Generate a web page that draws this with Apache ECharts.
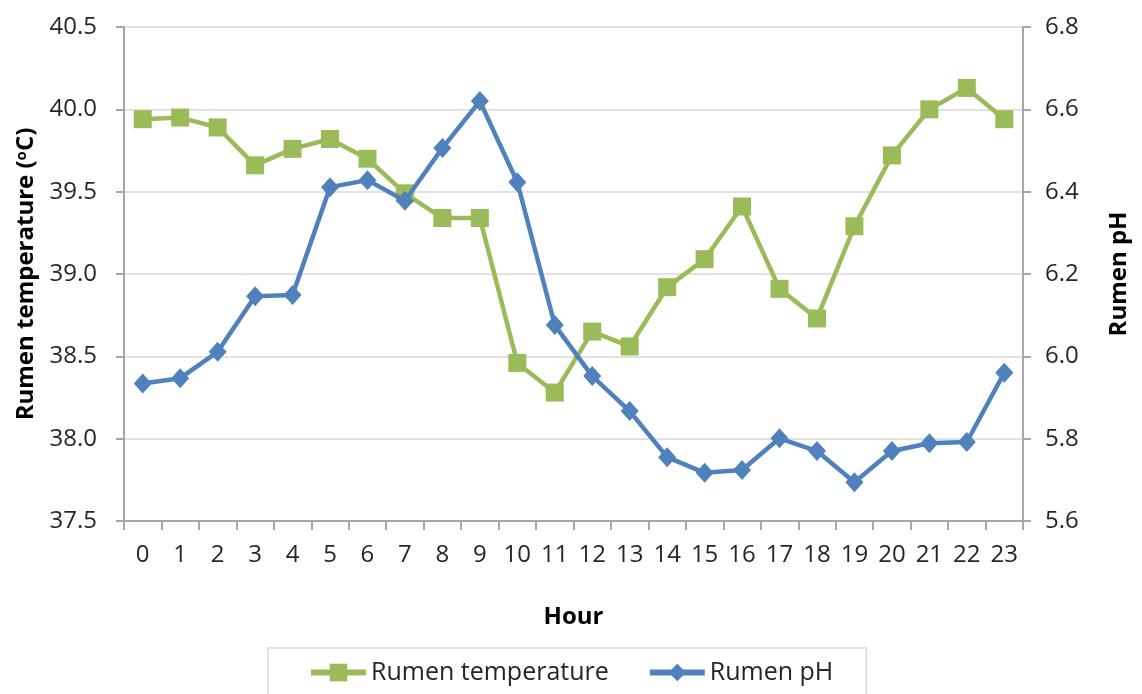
<!DOCTYPE html>
<html><head><meta charset="utf-8">
<script src="https://cdn.jsdelivr.net/npm/echarts@6/dist/echarts.min.js"></script>
<style>html,body{margin:0;padding:0;background:#fff}#c{width:1142px;height:694px}</style>
</head><body><div id="c"></div>
<script>
const hours = ['0','1','2','3','4','5','6','7','8','9','10','11','12','13','14','15','16','17','18','19','20','21','22','23'];
const rumenTemperature = [39.94,39.95,39.89,39.66,39.76,39.82,39.70,39.49,39.34,39.34,38.46,38.28,38.65,38.56,38.92,39.09,39.41,38.91,38.73,39.29,39.72,40.00,40.13,39.94];
const rumenPH = [5.934,5.947,6.011,6.146,6.149,6.411,6.428,6.378,6.506,6.620,6.423,6.076,5.952,5.867,5.755,5.717,5.724,5.801,5.770,5.694,5.770,5.789,5.792,5.960];
const leftTicks = {min:37.5, max:40.5, interval:0.5};
const rightTicks = {min:5.6, max:6.8, interval:0.2};

const font = '"Open Sans", "DejaVu Sans", sans-serif';
const axisGrey = '#A6A6A6';
const chart = echarts.init(document.getElementById('c'), null, {renderer:'canvas'});
chart.setOption({
  animation:false,
  textStyle:{fontFamily:font},
  grid:{left:124, right:119, top:27, bottom:173, containLabel:false},
  legend:{
    data:['Rumen temperature','Rumen pH'],
    top:648, left:268,
    padding:[12,33,20,40],
    borderColor:'#D9D9D9', borderWidth:1.5,
    itemWidth:55, itemHeight:22, itemGap:38,
    lineStyle:{width:6},
    textStyle:{fontSize:25, color:'#262626', fontFamily:font}
  },
  xAxis:{
    type:'category', data:hours, boundaryGap:true,
    name:'Hour', nameLocation:'middle', nameGap:84,
    nameTextStyle:{fontSize:24, fontWeight:'bold', color:'#000', fontFamily:font},
    axisLine:{lineStyle:{color:axisGrey, width:2}},
    axisTick:{show:true, alignWithLabel:false, length:9, lineStyle:{color:axisGrey, width:2}},
    axisLabel:{fontSize:24, color:'#262626', margin:22, interval:0, fontFamily:font},
    splitLine:{show:false}
  },
  yAxis:[
    {
      type:'value', min:leftTicks.min, max:leftTicks.max, interval:leftTicks.interval,
      name:'Rumen temperature ({sup|o}C)', nameLocation:'middle', nameGap:86, nameRotate:90,
      nameTextStyle:{fontSize:24, fontWeight:'bold', color:'#000', fontFamily:font,
        rich:{sup:{fontSize:15, fontWeight:'bold', color:'#000', fontFamily:font, padding:[0,0,9,0]}}},
      axisLine:{show:true, lineStyle:{color:axisGrey, width:2}},
      axisTick:{show:true, length:8, lineStyle:{color:axisGrey, width:2}},
      axisLabel:{fontSize:24, color:'#262626', margin:27, formatter:v=>v.toFixed(1), fontFamily:font},
      splitLine:{show:true, lineStyle:{color:'#D9D9D9', width:1.5}}
    },
    {
      type:'value', min:rightTicks.min, max:rightTicks.max, interval:rightTicks.interval, position:'right',
      name:'Rumen pH', nameLocation:'middle', nameGap:84, nameRotate:90,
      nameTextStyle:{fontSize:24, fontWeight:'bold', color:'#000', fontFamily:font},
      axisLine:{show:true, lineStyle:{color:axisGrey, width:2}},
      axisTick:{show:true, length:8, lineStyle:{color:axisGrey, width:2}},
      axisLabel:{fontSize:24, color:'#262626', margin:22, formatter:v=>v.toFixed(1), fontFamily:font},
      splitLine:{show:false}
    }
  ],
  series:[
    {
      name:'Rumen temperature', type:'line', yAxisIndex:0, data:rumenTemperature,
      symbol:'rect', symbolSize:18,
      lineStyle:{color:'#9BBB59', width:4.5},
      itemStyle:{color:'#9BBB59'}, z:2
    },
    {
      name:'Rumen pH', type:'line', yAxisIndex:1, data:rumenPH,
      symbol:'diamond', symbolSize:[18,20],
      lineStyle:{color:'#4F81BD', width:4.5},
      itemStyle:{color:'#4F81BD'}, z:3
    }
  ]
});
</script></body></html>
